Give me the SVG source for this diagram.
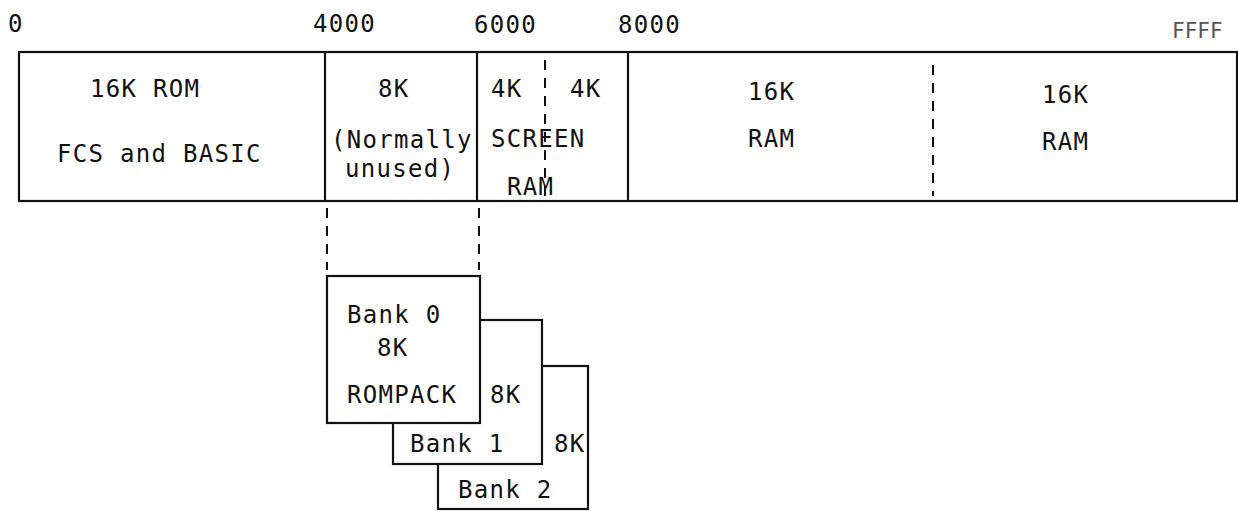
<svg xmlns="http://www.w3.org/2000/svg" width="1238" height="511" viewBox="0 0 1238 511">
<style>
text{font-family:"DejaVu Sans Mono","Liberation Mono",monospace;font-size:24px;letter-spacing:1.3px;fill:#111}
.ln{stroke:#111;stroke-width:2.2;fill:none}
.bx{stroke:#111;stroke-width:2.2;fill:#fff}
.ds{stroke:#111;stroke-width:2;fill:none;stroke-dasharray:10 8}
.faint{fill:#555;font-size:21px;letter-spacing:0px}
</style>
<rect width="1238" height="511" fill="#fff"/>
<g id="addresses">
<text x="8" y="32">0</text>
<text x="313" y="32">4000</text>
<text x="474" y="33">6000</text>
<text x="618" y="33">8000</text>
<text class="faint" x="1172" y="38">FFFF</text>
</g>
<g id="memory-bar">
<rect class="bx" x="19" y="52" width="1218" height="149"/>
</g>
<g id="rom">
<text x="90" y="97">16K ROM</text>
<text x="57" y="162">FCS and BASIC</text>
</g>
<g id="unused">
<line class="ln" x1="325" y1="52" x2="325" y2="201"/>
<text x="378" y="97">8K</text>
<text x="331" y="148">(Normally</text>
<text x="345" y="177">unused)</text>
</g>
<g id="screen-ram">
<line class="ln" x1="477" y1="52" x2="477" y2="201"/>
<line class="ds" x1="545" y1="60" x2="545" y2="196"/>
<text x="491" y="97">4K</text>
<text x="570" y="97">4K</text>
<text x="491" y="147">SCREEN</text>
<text x="507" y="195">RAM</text>
</g>
<g id="ram1">
<line class="ln" x1="628" y1="52" x2="628" y2="201"/>
<text x="748" y="100">16K</text>
<text x="748" y="147">RAM</text>
</g>
<g id="ram2">
<line class="ds" x1="933" y1="65" x2="933" y2="196"/>
<text x="1042" y="103">16K</text>
<text x="1042" y="150">RAM</text>
</g>
<g id="connectors">
<line class="ds" x1="327" y1="208" x2="327" y2="270"/>
<line class="ds" x1="479" y1="208" x2="479" y2="270"/>
</g>
<g id="bank2">
<rect class="bx" x="438" y="366" width="150" height="143"/>
<text x="458" y="498">Bank 2</text>
</g>
<g id="bank1">
<rect class="bx" x="393" y="320" width="149" height="144"/>
<text x="410" y="452">Bank 1</text>
<text x="554" y="452">8K</text>
</g>
<g id="bank0">
<rect class="bx" x="327" y="276" width="153" height="147"/>
<text x="347" y="323">Bank 0</text>
<text x="377" y="356">8K</text>
<text x="347" y="403">ROMPACK</text>
<text x="490" y="403">8K</text>
</g>
</svg>
